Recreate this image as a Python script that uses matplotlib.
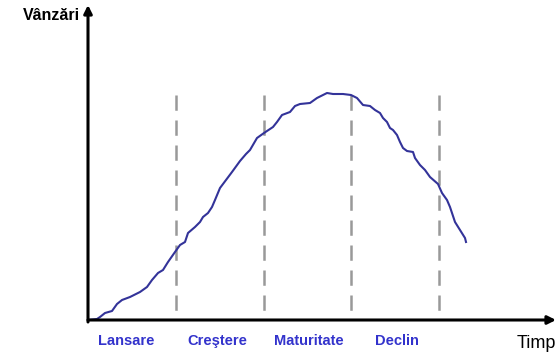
import matplotlib.pyplot as plt

plt.rcParams['font.family'] = ['Liberation Sans', 'DejaVu Sans']
plt.rcParams['lines.scale_dashes'] = False

# ciclul de viata al produsului (unitati ~ pixeli fata de origine)
timp = [0, 9, 12, 17, 24, 29, 34, 42, 52, 59, 64, 70, 75, 80, 87, 92, 97, 100,
        107, 112, 115, 120, 124, 127, 132, 138, 144, 152, 158, 162, 169, 176,
        185, 189, 194, 202, 207, 212, 222, 229, 239, 245, 255, 263, 269, 275,
        282, 287, 292, 295, 299, 302, 305, 309, 312, 315, 319, 325, 327, 332,
        337, 342, 350, 354, 359, 362, 364, 367, 372, 377, 378]
vanzari = [0, 1, 3, 7, 9, 16, 20, 23, 28, 33, 40, 47, 50, 58, 68, 75, 78, 87,
           93, 98, 103, 107, 113, 120, 132, 140, 148, 159, 166, 170, 182, 187,
           193, 198, 205, 208, 214, 216, 217, 222, 227, 226, 226, 225, 222, 215,
           214, 210, 207, 202, 198, 192, 190, 185, 178, 172, 169, 168, 162, 155,
           150, 143, 136, 127, 120, 113, 107, 98, 90, 82, 78]

faze = ['Lansare', 'Creştere', 'Maturitate', 'Declin']
faze_x = [38, 129, 221, 309]
limite = [88, 176, 263, 351]

fig = plt.figure(figsize=(5.58, 3.63), dpi=100)
ax = fig.add_axes([0, 0, 1, 1])
ax.set_xlim(-88, 470)
ax.set_ylim(-43, 320)
ax.axis('off')

# axe cu sageti
ax.annotate('', xy=(468, 0), xytext=(0, 0),
            arrowprops=dict(arrowstyle='-|>', lw=2.2, color='black',
                            mutation_scale=12, shrinkA=0, shrinkB=0))
ax.annotate('', xy=(0, 315), xytext=(0, -2),
            arrowprops=dict(arrowstyle='-|>', lw=2.2, color='black',
                            mutation_scale=12, shrinkA=0, shrinkB=0))

# liniile intre faze, desenate de sus in jos
for x in limite:
    ax.plot([x, x], [225, 0], color='#999999', lw=1.8, dashes=(11, 7))

ax.plot(timp, vanzari, color='#333399', lw=1.5)

for lbl, x in zip(faze, faze_x):
    ax.text(x, -21, lbl, color='#3333CC', fontsize=10.5, fontweight='bold',
            ha='center', va='center')

ax.text(448, -23, 'Timp', fontsize=13, ha='center', va='center')
ax.text(-37, 305, 'Vânzări', fontsize=11.5, fontweight='bold',
        ha='center', va='center')

fig.savefig('out.png', dpi=100)
